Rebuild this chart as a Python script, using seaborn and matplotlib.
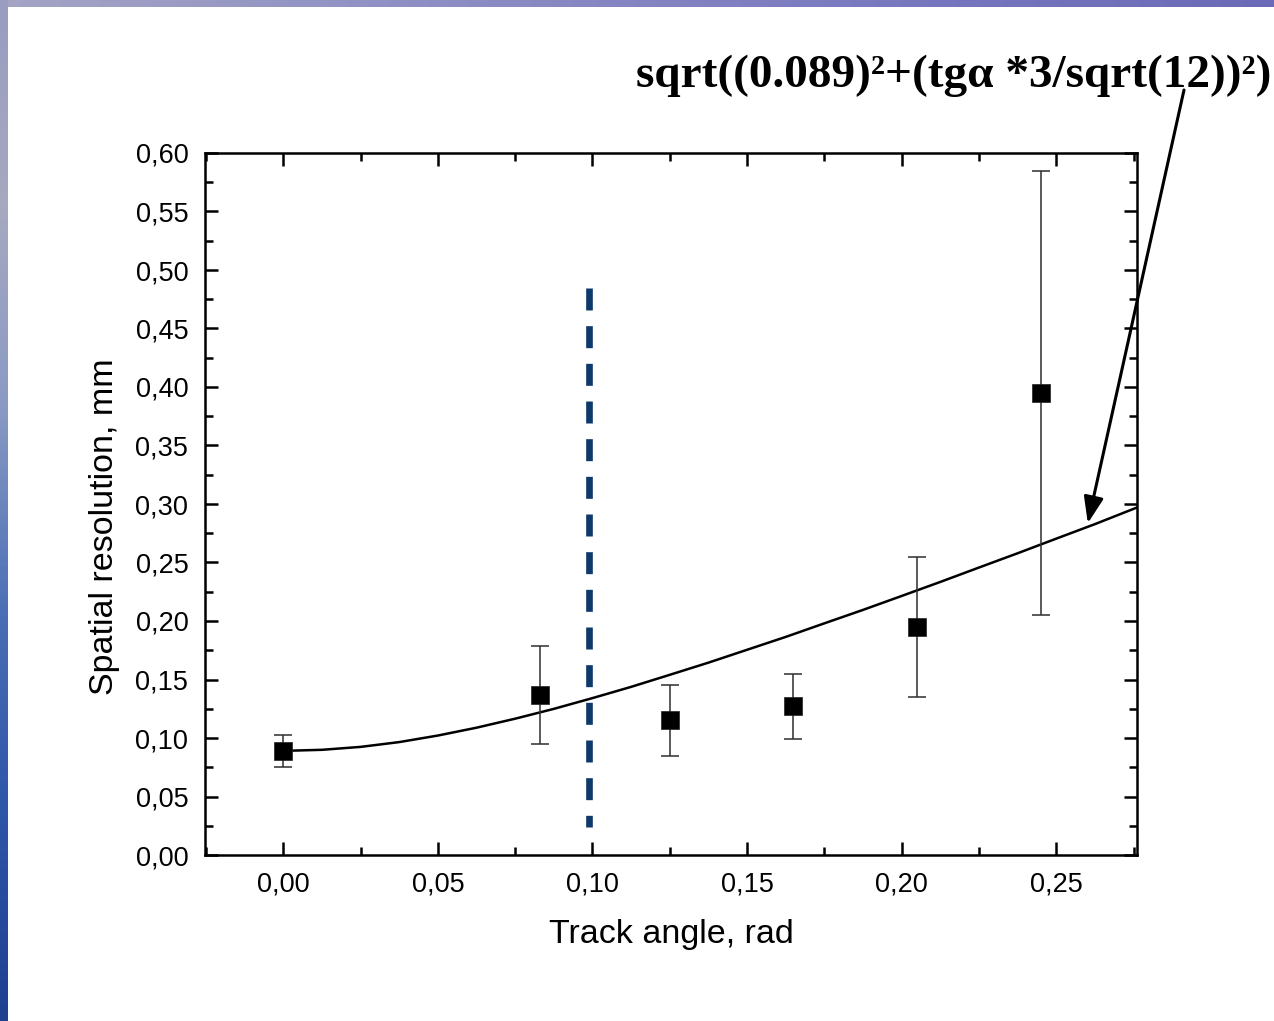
import numpy as np
import pandas as pd
import matplotlib
matplotlib.use("Agg")
import matplotlib.pyplot as plt
from matplotlib.ticker import MultipleLocator, FuncFormatter
import seaborn as sns

# Measured spatial resolution vs track angle
angle = [0.000, 0.083, 0.125, 0.165, 0.205, 0.245]
resolution = [0.089, 0.137, 0.115, 0.127, 0.195, 0.395]
resolution_err = [0.0135, 0.042, 0.030, 0.028, 0.060, 0.190]

# Expected resolution curve sqrt(0.089^2 + (tg(a)*3/sqrt(12))^2), tabulated
curve_angle = [0.0, 0.0125, 0.025, 0.0375, 0.05, 0.0625, 0.075, 0.0875, 0.10,
               0.1125, 0.125, 0.1375, 0.15, 0.1625, 0.175, 0.1875, 0.20,
               0.2125, 0.225, 0.2375, 0.25, 0.2625, 0.276]
curve_res = [0.0890, 0.0899, 0.0924, 0.0965, 0.1021, 0.1088, 0.1165, 0.1249,
             0.1341, 0.1437, 0.1540, 0.1644, 0.1754, 0.1864, 0.1980, 0.2095,
             0.2214, 0.2334, 0.2457, 0.2579, 0.2704, 0.2828, 0.2969]

# Boundary angle
boundary_angle = 0.099
boundary_span = [0.485, 0.024]

formula = "sqrt((0.089)²+(tgα *3/sqrt(12))²)"

sns.set_theme(style="ticks")
plt.rcParams["font.family"] = ["Liberation Sans", "DejaVu Sans"]

fig = plt.figure(figsize=(12.74, 10.21), dpi=100)
fig.patch.set_facecolor("white")

# slide backdrop edges
top = fig.add_axes([0, 1 - 7 / 1021, 1, 7 / 1021])
grad_h = np.linspace(0, 1, 256)[None, :]
top.imshow(grad_h, aspect="auto", extent=[0, 1, 0, 1],
           cmap=matplotlib.colors.LinearSegmentedColormap.from_list(
               "t", ["#a4a4c4", "#8e8ec4", "#7a7ac0", "#6a6ab8"]))
top.axis("off")
left = fig.add_axes([0, 0, 8 / 1274, 1])
grad_v = np.linspace(0, 1, 256)[:, None]
left.imshow(grad_v, aspect="auto", extent=[0, 1, 0, 1], origin="lower",
            cmap=matplotlib.colors.LinearSegmentedColormap.from_list(
                "l", ["#1f3f8f", "#2d55a8", "#4a6fb5", "#8a9ac4", "#a7a9c0", "#9a9cc0"]))
left.axis("off")

ax = fig.add_axes([205 / 1274, 1 - 855 / 1021, 932 / 1274, 702 / 1021])
ax.set_facecolor("white")

df_curve = pd.DataFrame({"angle": curve_angle, "res": curve_res})
sns.lineplot(data=df_curve, x="angle", y="res", ax=ax, color="black",
             linewidth=1.8, zorder=3)

ax.plot([boundary_angle, boundary_angle], boundary_span, color="#0d3a6b",
        linewidth=4.8, linestyle=(0, (3.3, 2.35)), solid_capstyle="butt",
        dash_capstyle="butt", zorder=2)

ax.errorbar(angle, resolution, yerr=resolution_err, fmt="none",
            ecolor="#2e2e2e", elinewidth=1.1, capsize=6.5, capthick=1.1,
            zorder=4)
df_pts = pd.DataFrame({"angle": angle, "res": resolution})
sns.scatterplot(data=df_pts, x="angle", y="res", ax=ax, marker="s", s=150,
                color="black", edgecolor="#222222", linewidth=0.5, zorder=5)

ax.set_xlim(-0.0253, 0.2761)
ax.set_ylim(0, 0.60)
ax.xaxis.set_major_locator(MultipleLocator(0.05))
ax.xaxis.set_minor_locator(MultipleLocator(0.025))
ax.yaxis.set_major_locator(MultipleLocator(0.05))
ax.yaxis.set_minor_locator(MultipleLocator(0.025))
comma = FuncFormatter(lambda v, p: f"{v:.2f}".replace(".", ",").replace("-0,00", "0,00"))
ax.xaxis.set_major_formatter(comma)
ax.yaxis.set_major_formatter(comma)
ax.tick_params(which="both", direction="in", top=True, right=True,
               width=1.8, color="black", labelsize=19.5, labelcolor="black")
ax.tick_params(which="major", length=9.5)
ax.tick_params(which="minor", length=5.5)
ax.tick_params(axis="x", which="major", pad=12)
ax.tick_params(axis="y", which="major", pad=12)
for s in ax.spines.values():
    s.set_linewidth(1.8)
    s.set_color("black")

ax.set_xlabel("Track angle, rad", fontsize=24.5, color="black", labelpad=15)
ax.set_ylabel("Spatial resolution, mm", fontsize=24.5, color="black")
ax.yaxis.set_label_coords(-0.091, 0.467)

fig.text(636 / 1274, 1 - 76 / 1021, formula, ha="left", va="center",
         fontsize=34, fontweight="bold", color="black",
         family=["Liberation Serif", "DejaVu Serif"])

ax.annotate("", xy=(0.2602, 0.2836), xycoords="data",
            xytext=(1184 / 1274, 1 - 90 / 1021), textcoords="figure fraction",
            arrowprops=dict(arrowstyle="-|>,head_length=0.8,head_width=0.3",
                            mutation_scale=20, color="black", lw=2.2,
                            shrinkA=0, shrinkB=0),
            annotation_clip=False)

fig.savefig("out.png", dpi=100, facecolor="white")
